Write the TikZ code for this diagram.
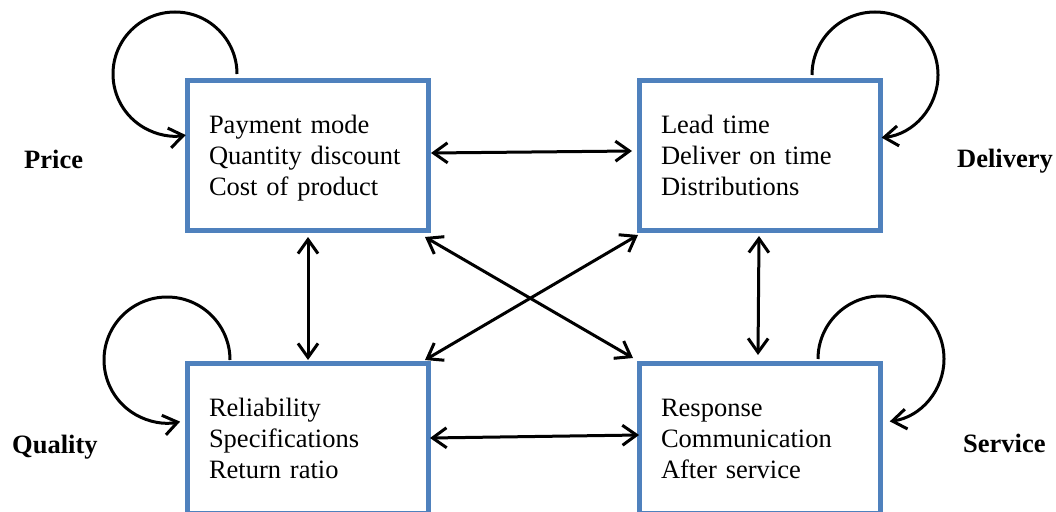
\documentclass[tikz,border=0pt]{standalone}
\usepackage{fontspec}
\setmainfont{Liberation Serif}
\usetikzlibrary{arrows.meta}
\definecolor{boxblue}{RGB}{79,129,189}
\begin{document}
\begin{tikzpicture}[x=1pt,y=-1pt,
  factor/.style={draw=boxblue, line width=5pt, outer sep=0pt, inner sep=0pt,
    minimum width=241pt, minimum height=150pt, text width=197pt, align=left,
    font=\fontsize{26.5}{31}\selectfont},
  cat/.style={anchor=base west, inner sep=0pt, font=\fontsize{26.5}{31}\selectfont\bfseries},
  link/.style={line width=3pt, {Straight Barb[length=14pt,width=20pt]}-{Straight Barb[length=14pt,width=20pt]}},
  selfloop/.style={line width=3pt, -{Straight Barb[length=14pt,width=20pt]}}]
\clip (0,0) rectangle (1056,511);
\fill[white] (0,0) rectangle (1056,511);

\node[factor] (tl) at (307.5,155) {\rule{0pt}{27.7pt}Payment mode\\ Quantity discount\\ Cost of product\strut};
\node[factor] (tr) at (759.5,155) {\rule{0pt}{27.7pt}Lead time\\ Deliver on time\\ Distributions\strut};
\node[factor] (bl) at (307.5,438) {\rule{0pt}{27.7pt}Reliability\\ Specifications\\ Return ratio\strut};
\node[factor] (br) at (759.5,438) {\rule{0pt}{27.7pt}Response\\ Communication\\ After service\strut};

\node[cat] (price) at (24,168) {Price};
\node[cat] (delivery) at (957,167) {Delivery};
\node[cat] (quality) at (12,453) {Quality};
\node[cat] (service) at (963,452) {Service};

% self loops
\draw[selfloop] ([shift={(50,-6)}]tl.north west) arc[start angle=0, end angle=-280, radius=62];
\draw[selfloop] ([shift={(173,-5)}]tr.north west) arc[start angle=180, end angle=444, radius=63];
\draw[selfloop] ([shift={(43,-3)}]bl.north west) arc[start angle=0, end angle=-282, radius=63];
\draw[selfloop] ([shift={(179,-4)}]br.north west) arc[start angle=180, end angle=442, radius=63];

% links
\draw[link] ([shift={(3,73)}]tl.north east) -- ([shift={(-7,71)}]tr.north west);
\draw[link] ([shift={(2,75)}]bl.north east) -- ([shift={(0,72)}]br.north west);
\draw[link] ([shift={(0.5,7)}]tl.south) -- ([shift={(0.5,-3)}]bl.north);
\draw[link] ([shift={(-0.5,6)}]tr.south) -- ([shift={(-1.5,-8)}]br.north);
\draw[link] ([shift={(-3,7)}]tl.south east) -- ([shift={(-6,-5)}]br.north west);
\draw[link] ([shift={(-3,-3)}]bl.north east) -- ([shift={(-1,5)}]tr.south west);
\end{tikzpicture}
\end{document}
